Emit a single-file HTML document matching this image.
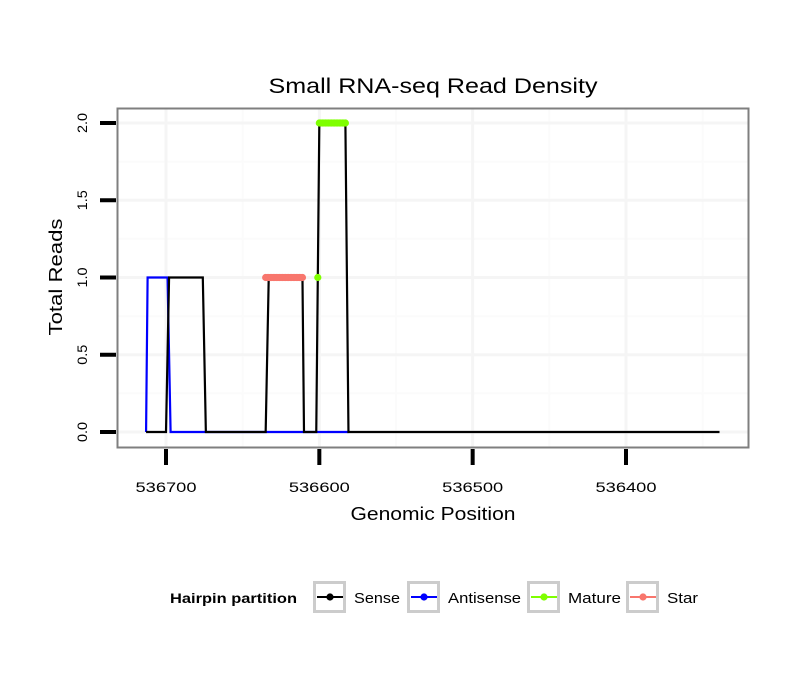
<!DOCTYPE html>
<html><head><meta charset="utf-8"><style>
body{margin:0;background:#fff;}
svg{display:block;font-family:"Liberation Sans",sans-serif;}
</style></head><body>
<svg id="c" width="810" height="690">
<rect width="810" height="690" fill="#fff"/>
<text x="433" y="93" font-size="21" text-anchor="middle" textLength="329" lengthAdjust="spacingAndGlyphs" fill="#000">Small RNA-seq Read Density</text>
<text x="433" y="520" font-size="18" text-anchor="middle" textLength="165" lengthAdjust="spacingAndGlyphs">Genomic Position</text>
<text transform="translate(62,277) rotate(-90)" font-size="18" text-anchor="middle" textLength="117" lengthAdjust="spacingAndGlyphs">Total Reads</text>
<g id="grid"></g><g id="series"></g><g id="axes"></g>
<rect x="117.5" y="108.5" width="631" height="339" fill="none" stroke="#7f7f7f" stroke-width="2"/>
<g id="legend">
<text x="170" y="603" font-size="14" font-weight="bold" textLength="127" lengthAdjust="spacingAndGlyphs">Hairpin partition</text>
</g>
</svg>
<script>
const xTicks=[536700,536600,536500,536400];
const xMinor=[536650,536550,536450,536350];
const yTicks=[0,0.5,1,1.5,2];
const yTickLabels=["0.0","0.5","1.0","1.5","2.0"];
const yMinor=[0.25,0.75,1.25,1.75];
const senseX=[536713,536700,536698,536676,536674,536635,536633,536611,536610,536602,536601,536600,536583,536582,536581,536339];
const senseY=[0,0,1,1,0,0,1,1,0,0,1,2,2,1,0,0];
const antiX=[536713,536712,536699,536697,536581];
const antiY=[0,1,1,0,0];
const starX=[536635,536634,536633,536632,536631,536630,536629,536628,536627,536626,536625,536624,536623,536622,536621,536620,536619,536618,536617,536616,536615,536614,536613,536612,536611];
const starY=[1,1,1,1,1,1,1,1,1,1,1,1,1,1,1,1,1,1,1,1,1,1,1,1,1];
const matureX=[536601,536600,536599,536598,536597,536596,536595,536594,536593,536592,536591,536590,536589,536588,536587,536586,536585,536584,536583];
const matureY=[1,2,2,2,2,2,2,2,2,2,2,2,2,2,2,2,2,2,2];
const legendLabels=["Sense","Antisense","Mature","Star"];
const legendColors=["#000000","#0000ff","#7fff00","#f8766d"];

const NS="http://www.w3.org/2000/svg";
const X=v=>166+(536700-v)*1.5333;
const Y=v=>432-v*154.5;
function mk(tag,attrs,parent){const e=document.createElementNS(NS,tag);for(const k in attrs)e.setAttribute(k,attrs[k]);parent.appendChild(e);return e;}
const grid=document.getElementById('grid'),axes=document.getElementById('axes'),ser=document.getElementById('series'),leg=document.getElementById('legend');
yMinor.forEach(v=>{const l=mk('line',{x1:118,x2:748,y1:Y(v),y2:Y(v),stroke:'#fbfbfb','stroke-width':2},grid);

});
xMinor.forEach(v=>{const l=mk('line',{x1:X(v),x2:X(v),y1:109,y2:447,stroke:'#fbfbfb','stroke-width':2},grid);

});
yTicks.forEach((v,i)=>{const l=mk('line',{x1:118,x2:748,y1:Y(v),y2:Y(v),stroke:'#f5f5f5','stroke-width':3},grid);


const t=mk('line',{x1:100,x2:116,y1:Y(v),y2:Y(v),stroke:'#000','stroke-width':4},axes);


const tx=mk('text',{transform:`translate(87,${Y(v)}) rotate(-90)`,'font-size':14,'text-anchor':'middle',textLength:20,lengthAdjust:'spacingAndGlyphs'},axes);
tx.textContent=yTickLabels[i];

});
xTicks.forEach(v=>{const l=mk('line',{x1:X(v),x2:X(v),y1:109,y2:447,stroke:'#f5f5f5','stroke-width':3},grid);


const t=mk('line',{x1:X(v),x2:X(v),y1:449,y2:465,stroke:'#000','stroke-width':4},axes);


const tx=mk('text',{x:X(v),y:492,'font-size':14,'text-anchor':'middle',textLength:61,lengthAdjust:'spacingAndGlyphs'},axes);
tx.textContent=String(v);

});
function line(xs,ys,color,name){const p=mk('polyline',{points:xs.map((x,i)=>X(x)+','+Y(ys[i])).join(' '),fill:'none',stroke:color,'stroke-width':2.2,'stroke-linejoin':'miter'},ser);

}
function pts(xs,ys,color,name){xs.forEach((x,i)=>{const c=mk('circle',{cx:X(x),cy:Y(ys[i]),r:3.6,fill:color},ser);

});}
line(antiX,antiY,'#0000ff','antisense-line');
line(senseX,senseY,'#000000','sense-line');
pts(starX,starY,'#f8766d','star-point');
pts(matureX,matureY,'#7fff00','mature-point');
const boxX=[313,407,527,626];
const labW=[46,73,53,31];
legendLabels.forEach((lab,i)=>{const bx=boxX[i];
const r=mk('rect',{x:bx+1.5,y:582.5,width:30,height:29,fill:'#fff',stroke:'#cccccc','stroke-width':3},leg);


mk('line',{x1:bx+4,x2:bx+30,y1:597,y2:597,stroke:legendColors[i],'stroke-width':2},leg);
mk('circle',{cx:bx+17,cy:597,r:3.6,fill:legendColors[i]},leg);
const t=mk('text',{x:bx+41,y:603,'font-size':15,textLength:labW[i],lengthAdjust:'spacingAndGlyphs'},leg);
t.textContent=lab;

});
</script>
</body></html>
